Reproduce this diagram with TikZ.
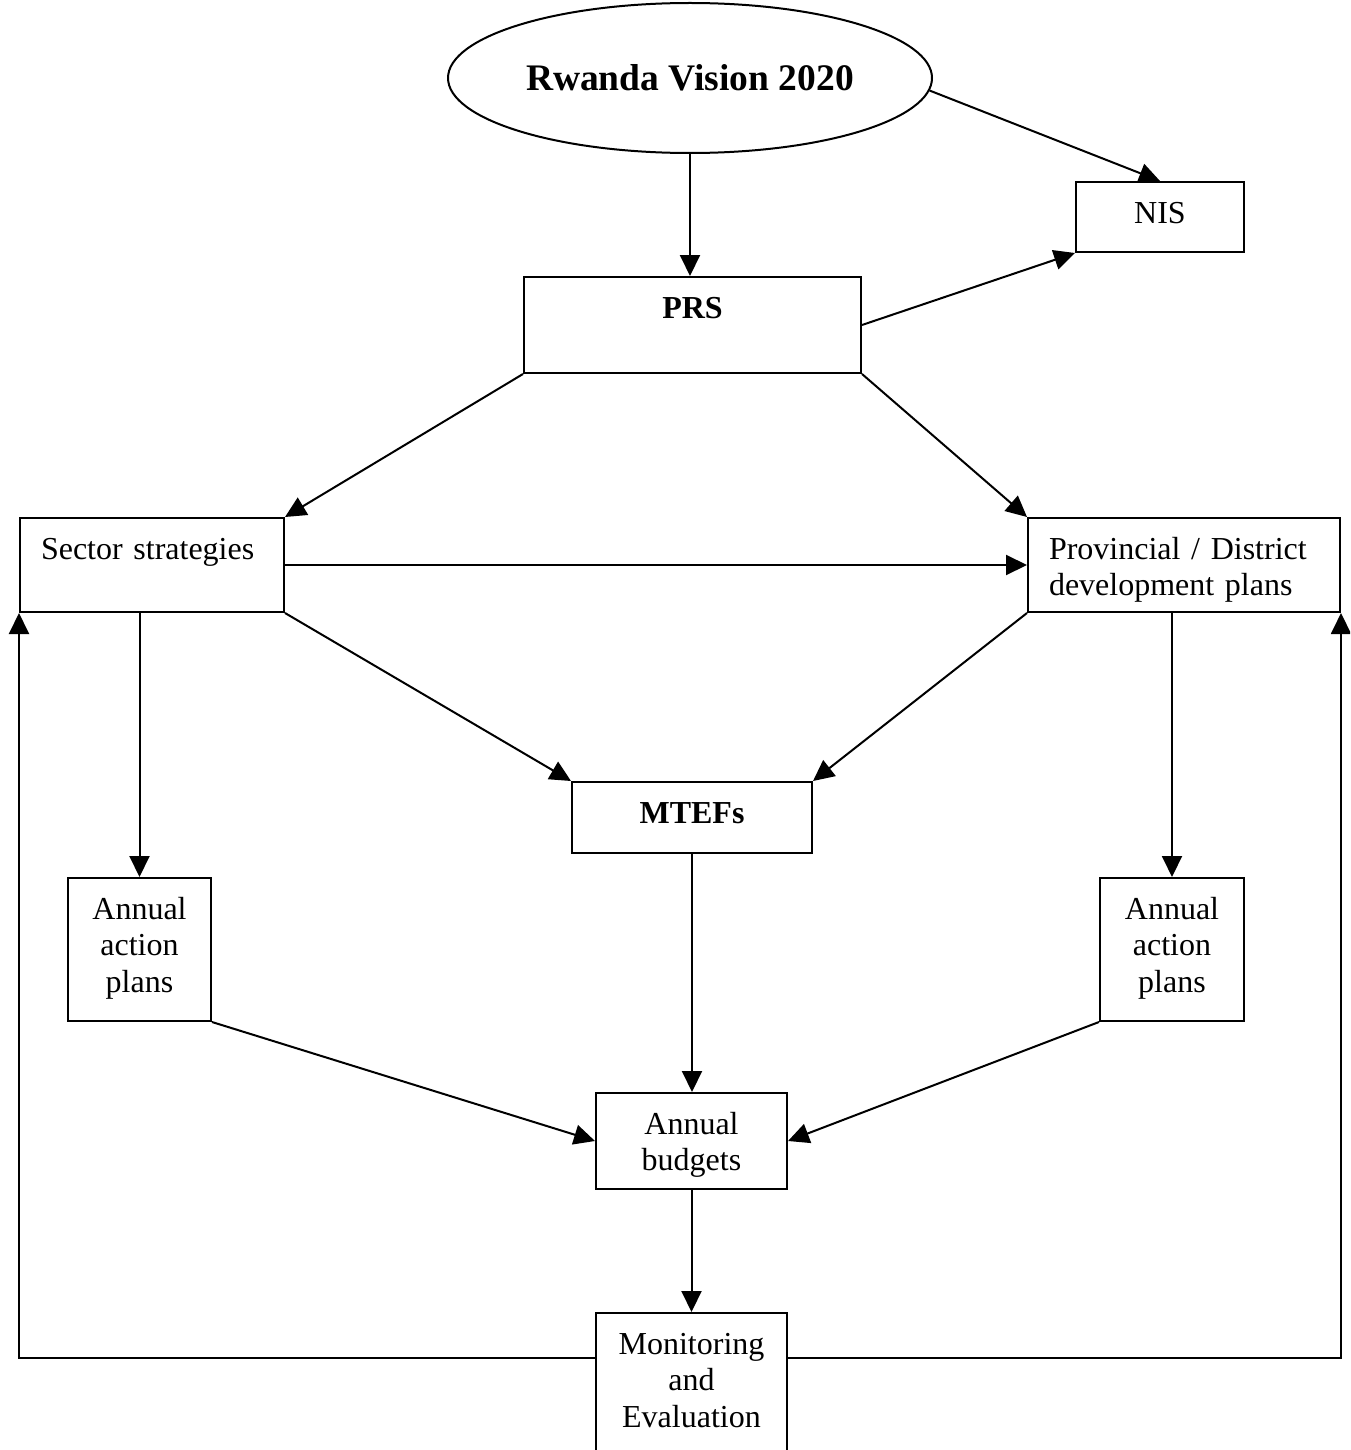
\documentclass[tikz,border=0pt]{standalone}
\usepackage{fontspec}
\setmainfont{Liberation Serif}
\usepackage[dvipsnames]{xcolor}
\usepackage{tikz}
\usetikzlibrary{arrows.meta, shapes.geometric}

\begin{document}
\begin{tikzpicture}[x=1pt, y=-1pt, line width=2pt]
      \tikzstyle box=[draw, rectangle, anchor=north west, inner sep=0pt, align=center,
         text height=41pt, font=\fontsize{32}{36.5}\selectfont];
      \tikzstyle arr=[-{Triangle[length=21pt, width=20pt]}];

      \clip (0, 0) rectangle (1350, 1450); %page size

      \node[draw, ellipse, minimum width=484pt, minimum height=150pt, inner sep=0pt,
         font=\fontsize{37.5}{42}\selectfont\bfseries] (vision) at (690, 78) {Rwanda Vision 2020};

      \node[box, minimum width=168pt, text depth=29pt] (nis) at (1075, 181) {NIS};
      \node[box, minimum width=337pt, text depth=55pt,
         font=\fontsize{32}{36.5}\selectfont\bfseries] (prs) at (523, 276) {PRS};

      \node[box, minimum width=264pt, text width=222pt, align=left, text depth=53pt]
         (sector) at (19, 517) {Sector strategies};
      \node[box, minimum width=312pt, text width=270pt, align=left, text depth=53pt]
         (prov) at (1027, 517) {Provincial / District\\development plans};

      \node[box, minimum width=240pt, text depth=30pt,
         font=\fontsize{32}{36.5}\selectfont\bfseries] (mtef) at (571, 781) {MTEFs};

      %multi line boxes: height counts every line
      \node[box, minimum width=143pt, text height=114pt, text depth=29pt]
         (annl) at (67, 877) {Annual\\action\\plans};
      \node[box, minimum width=144pt, text height=114pt, text depth=29pt]
         (annr) at (1099, 877) {Annual\\action\\plans};

      \node[box, minimum width=191pt, text height=77.5pt, text depth=18.5pt]
         (budget) at (595, 1092) {Annual\\budgets};
      \node[box, minimum width=191pt, text height=114pt, text depth=28pt]
         (me) at (595, 1312) {Monitoring\\and\\Evaluation};

      \draw[arr] (vision.south) -- (vision.south |- prs.north);
      \draw[arr] (vision.-3) -- (nis.north);
      \draw[arr] (prs.east) -- (nis.south west);
      \draw[arr] (prs.south west) -- (sector.north east);
      \draw[arr] (prs.south east) -- (prov.north west);
      \draw[arr] (sector.east) -- (prov.west);
      \draw[arr] (sector.south east) -- (mtef.north west);
      \draw[arr] (prov.south west) -- (mtef.north east);
      \draw[arr] (sector.south -| annl.north) -- (annl.north);
      \draw[arr] (prov.south -| annr.north) -- (annr.north);
      \draw[arr] (mtef.south) -- (mtef.south |- budget.north);
      \draw[arr] (annl.south east) -- (budget.west);
      \draw[arr] (annr.south west) -- (budget.east);
      \draw[arr] (budget.south) -- (me.north);

      %feedback loops
      \draw[arr] ([yshift=26pt]me.west) -| (sector.south west);
      \draw[arr] ([yshift=26pt]me.east) -| (prov.south east);

   \end{tikzpicture}
\end{document}
